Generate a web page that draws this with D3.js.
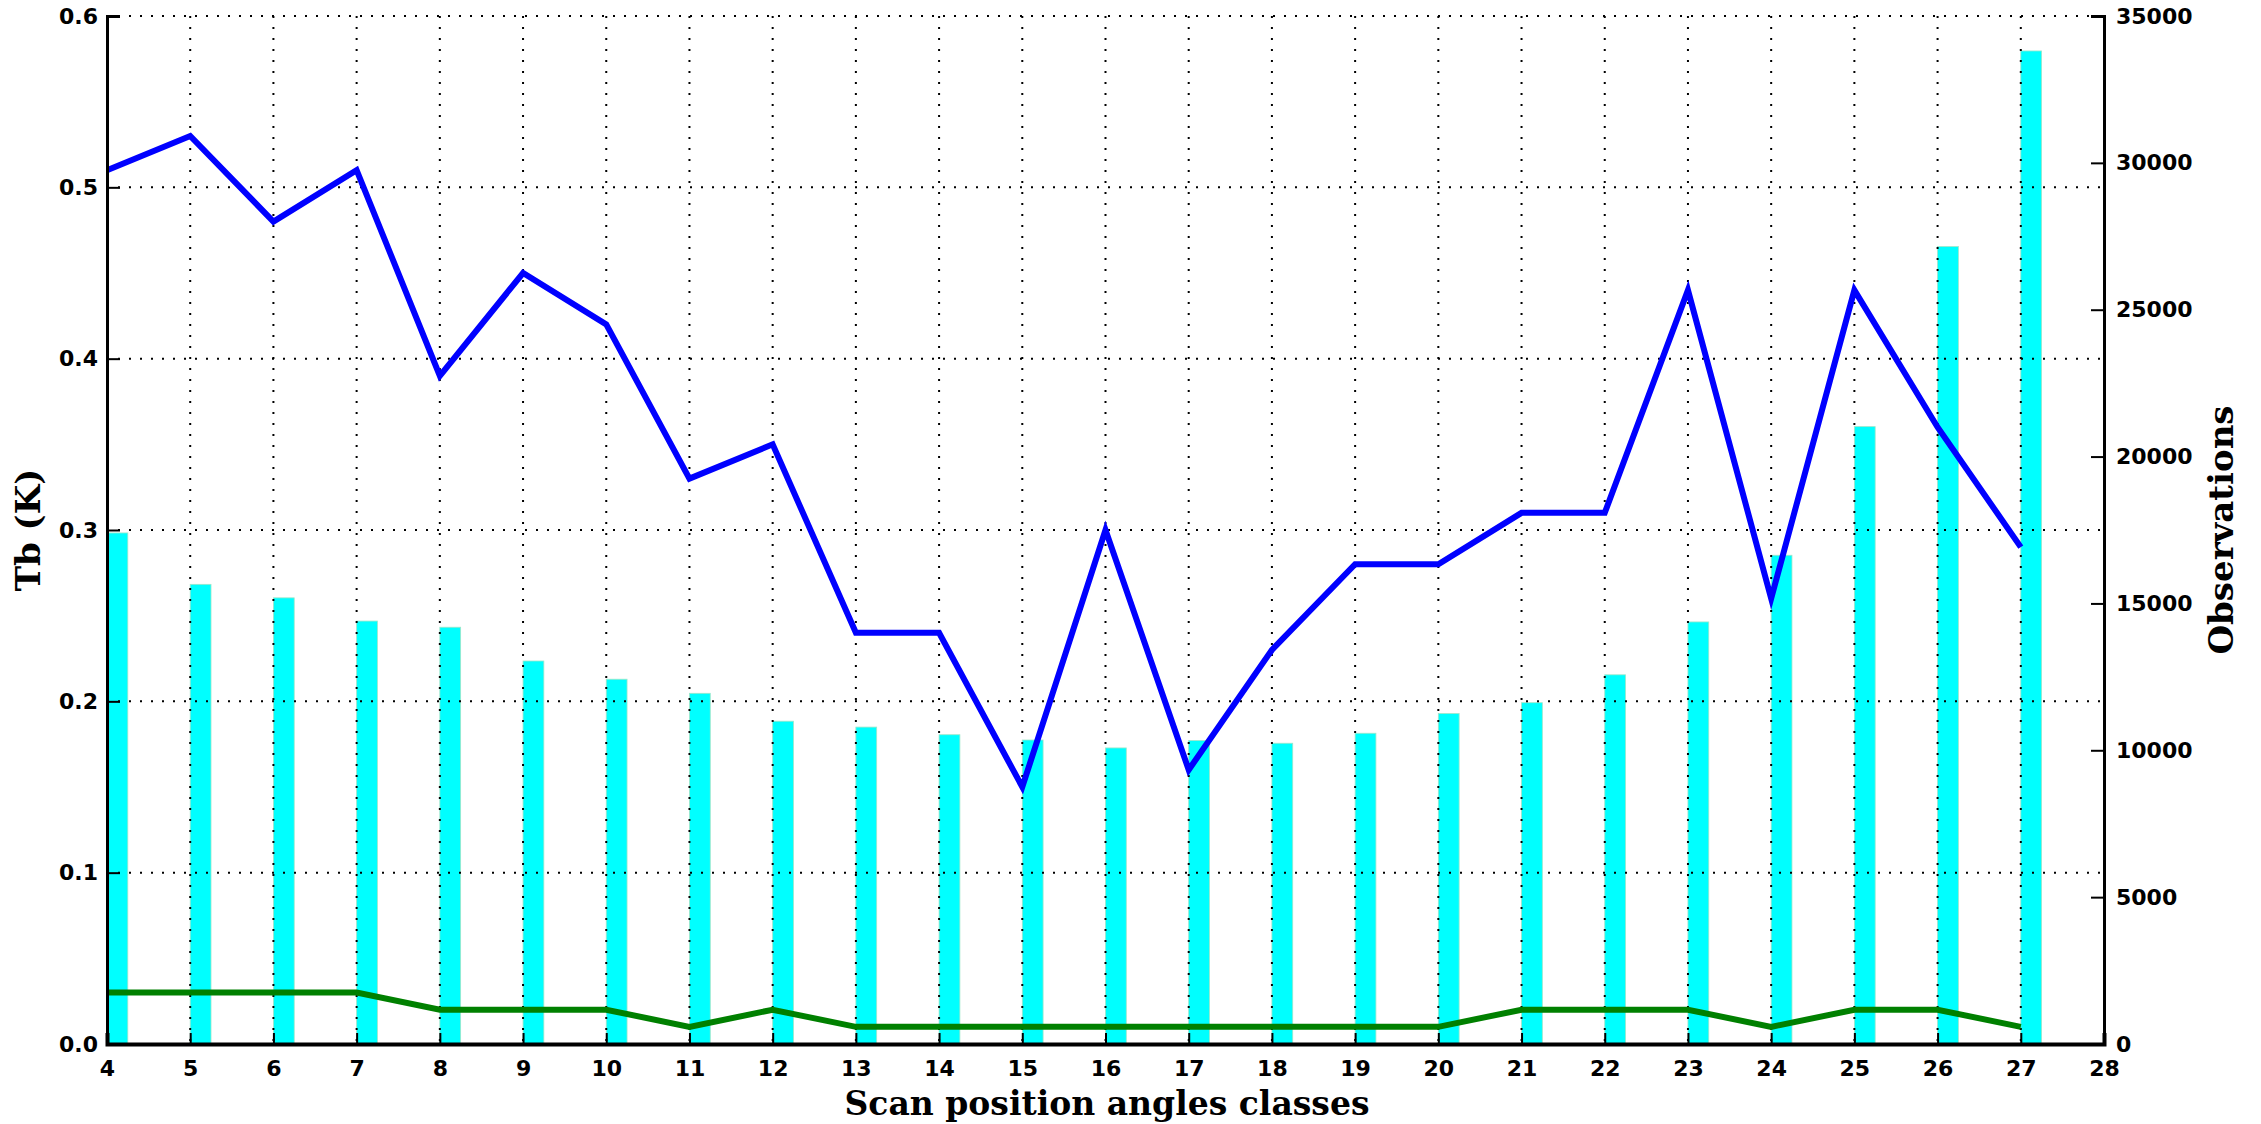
<!DOCTYPE html>
<html>
<head>
<meta charset="utf-8">
<script src="https://cdn.jsdelivr.net/npm/d3@7"></script>
<style>
  body { margin: 0; background: #fff; }
  .tick text { font-family: "DejaVu Sans", sans-serif; font-weight: bold; font-size: 22px; fill: #000; }
  .lbl { font-family: "DejaVu Serif", serif; font-weight: bold; font-size: 34px; fill: #000; }
</style>
</head>
<body>
<svg id="chart" width="2261" height="1124"></svg>
<script>
// scan position classes
const classes = [4, 5, 6, 7, 8, 9, 10, 11, 12, 13, 14, 15, 16, 17, 18, 19, 20, 21, 22, 23, 24, 25, 26, 27];
// observations per class (right axis)
const observations = [17400, 15650, 15190, 14400, 14190, 13040, 12420, 11940, 10990, 10790, 10530, 10350,
  10080, 10330, 10240, 10580, 11250, 11620, 12570, 14370, 16640, 21020, 27150, 33810];
// Tb statistics (left axis)
const blueTb = [0.51, 0.53, 0.48, 0.51, 0.39, 0.45, 0.42, 0.33, 0.35, 0.24, 0.24, 0.15,
  0.30, 0.16, 0.23, 0.28, 0.28, 0.31, 0.31, 0.44, 0.26, 0.44, 0.36, 0.29];
const greenTb = [0.03, 0.03, 0.03, 0.03, 0.02, 0.02, 0.02, 0.01, 0.02, 0.01, 0.01, 0.01,
  0.01, 0.01, 0.01, 0.01, 0.01, 0.02, 0.02, 0.02, 0.01, 0.02, 0.02, 0.01];
const xTicks = d3.range(4, 29);
const leftTicks = [0, 0.1, 0.2, 0.3, 0.4, 0.5, 0.6];
const rightTicks = [0, 5000, 10000, 15000, 20000, 25000, 30000, 35000];

const svg = d3.select("#chart");
const L = 107, R = 2104, T = 16, B = 1044;

const x = d3.scaleLinear().domain([4, 28]).range([L, R]);
const yL = d3.scaleLinear().domain([0, 0.6]).range([B, T]);
const yR = d3.scaleLinear().domain([0, 35000]).range([B, T]);

// bars (observations)
const barW = x(4.25) - x(4);
svg.append("g").selectAll("rect")
  .data(classes)
  .join("rect")
  .attr("x", (d) => x(d))
  .attr("y", (d, i) => yR(observations[i]))
  .attr("width", barW)
  .attr("height", (d, i) => B - yR(observations[i]))
  .attr("fill", "#00ffff")
  .attr("stroke", "#9fe6c8")
  .attr("stroke-width", 0.8);

// dotted grid
const grid = svg.append("g")
  .attr("stroke", "#000")
  .attr("stroke-width", 2)
  .attr("stroke-dasharray", "2,9");
grid.selectAll(".gx").data(xTicks).join("line")
  .attr("x1", (d) => x(d)).attr("x2", (d) => x(d))
  .attr("y1", T).attr("y2", B);
grid.selectAll(".gy").data(leftTicks).join("line")
  .attr("x1", L).attr("x2", R)
  .attr("y1", (d) => yL(d)).attr("y2", (d) => yL(d));

// lines
const line = (vals) => d3.line().x((d, i) => x(classes[i])).y((d) => yL(d))(vals);
svg.append("path").attr("d", line(greenTb))
  .attr("fill", "none").attr("stroke", "#008000").attr("stroke-width", 6);
svg.append("path").attr("d", line(blueTb))
  .attr("fill", "none").attr("stroke", "#0000ff").attr("stroke-width", 6);

// axes
const xAxis = svg.append("g").attr("transform", `translate(0,${B})`)
  .call(d3.axisBottom(x).tickValues(xTicks).tickFormat(d3.format("d")).tickSize(-11).tickPadding(16));
const leftAxis = svg.append("g").attr("transform", `translate(${L},0)`)
  .call(d3.axisLeft(yL).tickValues(leftTicks).tickFormat(d3.format(".1f")).tickSize(-13).tickPadding(9));
const rightAxis = svg.append("g").attr("transform", `translate(${R},0)`)
  .call(d3.axisRight(yR).tickValues(rightTicks).tickFormat(d3.format("d")).tickSize(-13).tickPadding(12));

[xAxis, leftAxis, rightAxis].forEach((g) => {
  g.selectAll(".tick line").attr("stroke", "#000").attr("stroke-width", 2);
  g.select(".domain").attr("stroke", "#000").attr("stroke-width", 3);
});
xAxis.select(".domain").attr("stroke-width", 4);

// axis labels
svg.append("text").attr("class", "lbl")
  .attr("x", 1107).attr("y", 1115)
  .attr("text-anchor", "middle")
  .style("font-size", "33px")
  .text("Scan position angles classes");
svg.append("text").attr("class", "lbl")
  .attr("transform", `translate(40,${(T + B) / 2}) rotate(-90)`)
  .attr("text-anchor", "middle")
  .text("Tb (K)");
svg.append("text").attr("class", "lbl")
  .attr("transform", `translate(2233,${(T + B) / 2}) rotate(-90)`)
  .attr("text-anchor", "middle")
  .text("Observations");
</script>
</body>
</html>
